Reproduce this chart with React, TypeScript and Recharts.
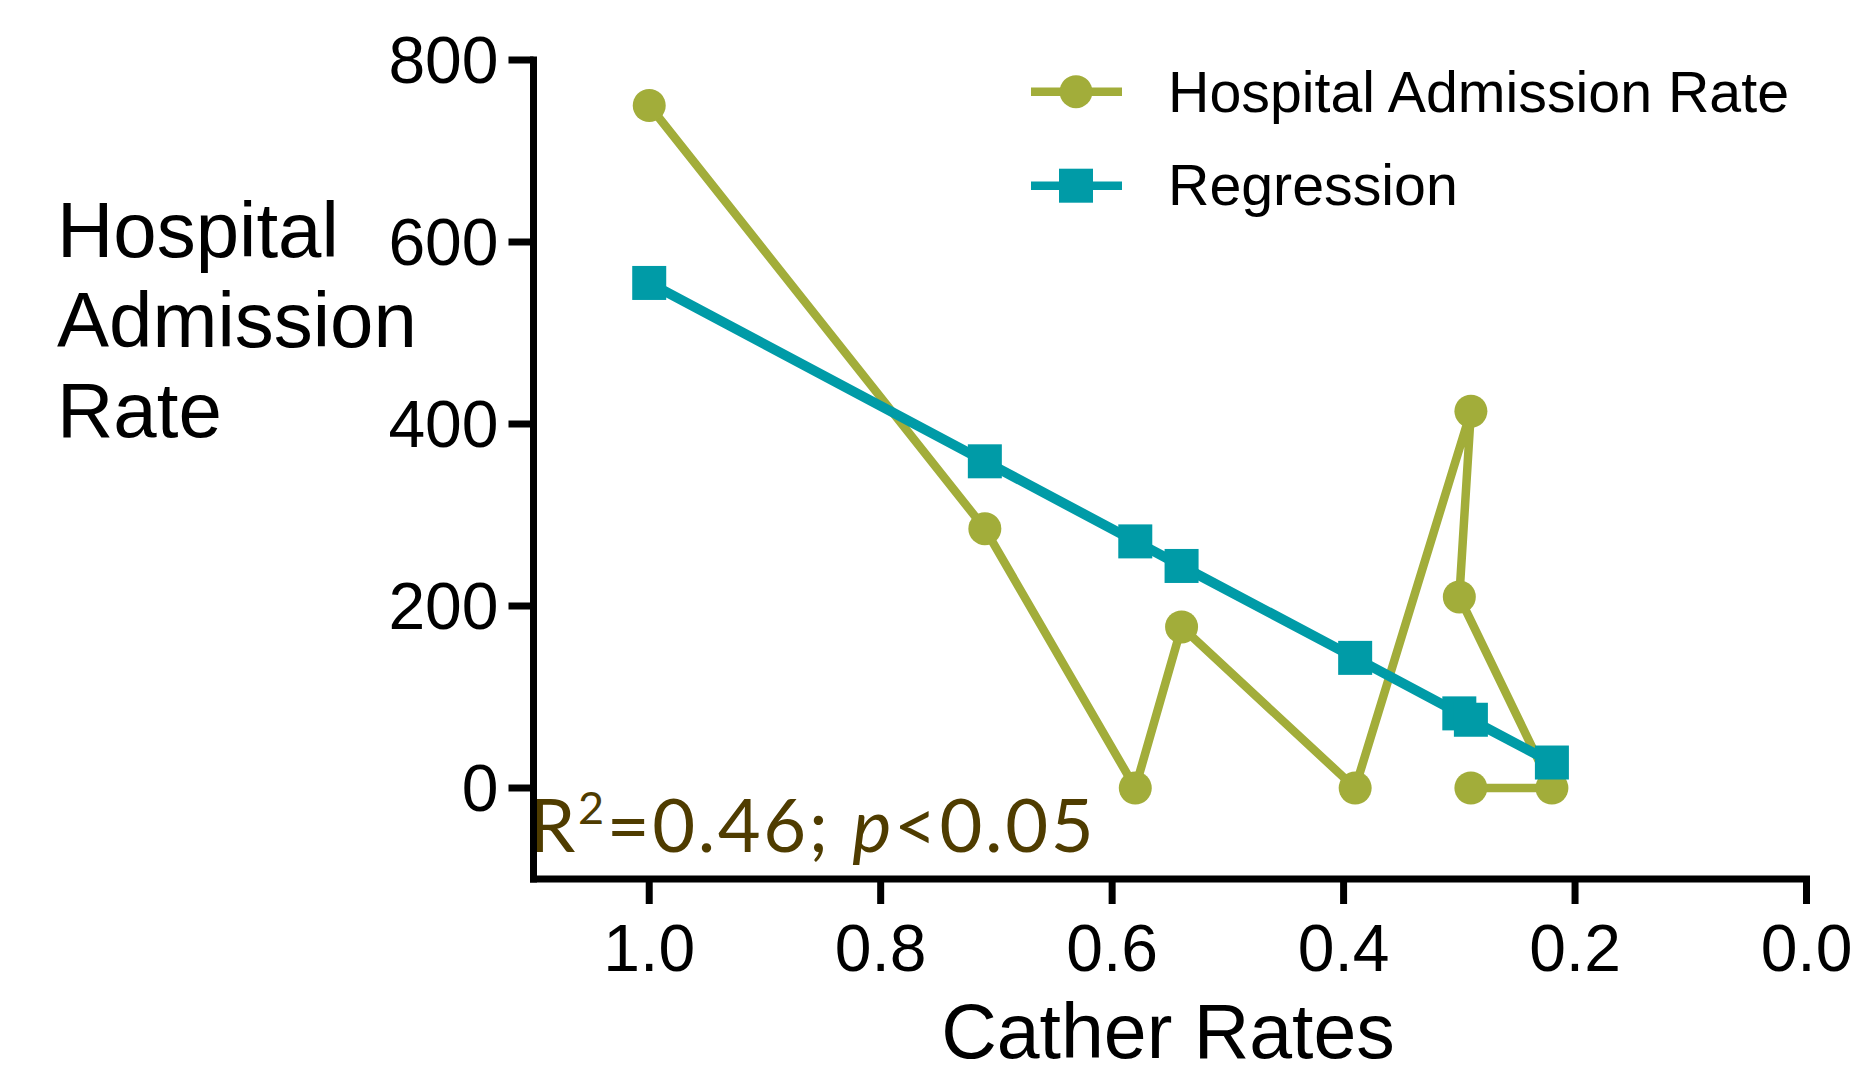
import { ScatterChart, Scatter, XAxis, YAxis, Customized } from 'recharts'

const catherRates = [1.0, 0.71, 0.58, 0.54, 0.39, 0.29, 0.3, 0.22, 0.29]
const admissionRates = [750, 285, 0, 177, 0, 414, 210, 0, 0]
const regressionX = [1.0, 0.71, 0.58, 0.54, 0.39, 0.3, 0.29, 0.22]
const regressionY = [555, 359, 271, 244, 143, 82, 75, 28]
const xTicks = [0, 0.2, 0.4, 0.6, 0.8, 1.0]
const yTicks = [0, 200, 400, 600, 800]
const seriesNames = ['Hospital Admission Rate', 'Regression']
const yTitle = ['Hospital', 'Admission', 'Rate']
const xTitle = 'Cather Rates'

const GREEN = '#a2ad3a'
const TEAL = '#009ba7'
const FONT = '"Liberation Sans", Arial, sans-serif'

const admissionData = catherRates.map((x, i) => ({ x, y: admissionRates[i] }))
const regressionData = regressionX.map((x, i) => ({ x, y: regressionY[i] }))

const CircleDot = (props: any) => <circle cx={props.cx} cy={props.cy} r={16.5} fill={GREEN} />
const SquareDot = (props: any) => (
  <rect x={props.cx - 17} y={props.cy - 17} width={34} height={34} fill={TEAL} />
)

// legend drawn in svg so it doesn't push the plot down
function LegendBox() {
  return (
    <g transform="translate(1015, 40)">
      <line x1={8} x2={99} y1={43.7} y2={43.7} stroke={GREEN} strokeWidth={8.5} />
      <circle cx={53} cy={43.7} r={16.5} fill={GREEN} />
      <text x={145} y={63.7} fontFamily={FONT} fontSize={57.3} fill="#000">{seriesNames[0]}</text>
      <line x1={8} x2={99} y1={137.7} y2={137.7} stroke={TEAL} strokeWidth={8.5} />
      <rect x={36} y={120.7} width={34} height={34} fill={TEAL} />
      <text x={145} y={157} fontFamily={FONT} fontSize={57.3} fill="#000">{seriesNames[1]}</text>
    </g>
  )
}

function Annotations() {
  return (
    <g>
      <text fontFamily={FONT} fontSize={78} fill="#000">
        {yTitle.map((t, i) => (
          <tspan key={t} x={49} y={249 + i * 90}>{t}</tspan>
        ))}
      </text>
      <text x={1160} y={1050} fontFamily={FONT} fontSize={77} fill="#000" textAnchor="middle">
        {xTitle}
      </text>
      <text x={521} y={843.7} fontFamily="Lato, sans-serif" fontSize={74} letterSpacing={2.6} fill="#4f3c00">
        R<tspan dy={-28} fontSize={45}>2</tspan>
        <tspan dy={28}>=0.46; </tspan>
        <tspan fontStyle="italic">p</tspan>
        <tspan>{'<0.05'}</tspan>
      </text>
      <LegendBox />
    </g>
  )
}

export default function App() {
  return (
    <div style={{ width: 1843, height: 1067 }}>
      <ScatterChart width={1843} height={1067} margin={{ top: 52, right: 44.5, bottom: 56, left: 385.5 }}>
        <XAxis
          type="number"
          dataKey="x"
          domain={[0, 1.1]}
          reversed
          ticks={xTicks}
          tickFormatter={(v: number) => v.toFixed(1)}
          height={140}
          axisLine={{ stroke: '#000', strokeWidth: 7, strokeLinecap: 'square' }}
          tickLine={{ stroke: '#000', strokeWidth: 7 }}
          tickSize={25}
          tickMargin={20}
          tick={{ fill: '#000', fontSize: 66, fontFamily: FONT }}
          allowDataOverflow
        />
        <YAxis
          type="number"
          dataKey="y"
          domain={[-100, 800]}
          ticks={yTicks}
          width={140}
          axisLine={{ stroke: '#000', strokeWidth: 7, strokeLinecap: 'square' }}
          tickLine={{ stroke: '#000', strokeWidth: 7 }}
          tickSize={25}
          tickMargin={10}
          tick={{ fill: '#000', fontSize: 66, fontFamily: FONT }}
          allowDataOverflow
        />
        <Scatter
          name={seriesNames[0]}
          data={admissionData}
          line={{ stroke: GREEN, strokeWidth: 8.5 }}
          lineType="joint"
          shape={CircleDot}
          fill={GREEN}
          isAnimationActive={false}
        />
        <Scatter
          name={seriesNames[1]}
          data={regressionData}
          line={{ stroke: TEAL, strokeWidth: 10 }}
          lineType="joint"
          shape={SquareDot}
          fill={TEAL}
          isAnimationActive={false}
        />
        <Customized component={Annotations} />
      </ScatterChart>
    </div>
  )
}
